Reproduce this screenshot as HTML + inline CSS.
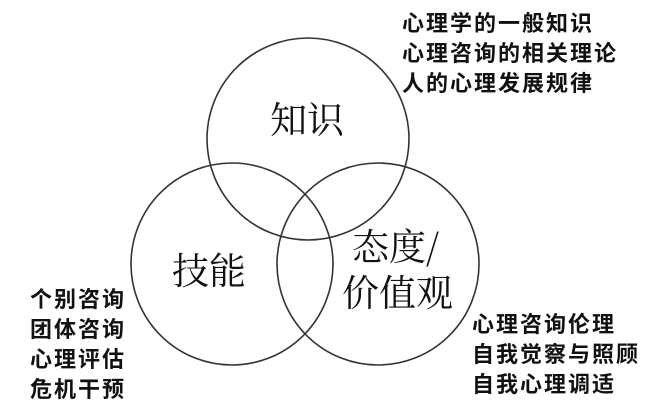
<!DOCTYPE html>
<html><head><meta charset="utf-8"><style>
body{margin:0;width:661px;height:420px;background:#fff;overflow:hidden;position:relative;font-family:"Liberation Sans","Noto Sans CJK SC",sans-serif;}
.t{position:absolute;font-size:22px;font-weight:bold;line-height:30px;letter-spacing:2px;color:#111;white-space:nowrap;}
.b{position:absolute;font-family:"Noto Serif CJK SC",serif;font-size:37px;color:#111;white-space:nowrap;line-height:44px;}
</style></head><body>
<svg width="661" height="420" style="position:absolute;left:0;top:0">
<g fill="none" stroke="#333" stroke-width="1.6">
<circle cx="308" cy="139" r="101"/>
<circle cx="232" cy="264" r="101"/>
<circle cx="378" cy="264" r="101"/>
</g></svg>
<div class="b" style="left:270px;top:95px">知识</div>
<div class="b" style="left:172px;top:246px">技能</div>
<div class="b" style="left:352px;top:222px">态度/</div>
<div class="b" style="left:342px;top:268px">价值观</div>
<div class="t" style="left:402px;top:9px">心理学的一般知识<br>心理咨询的相关理论<br>人的心理发展规律</div>
<div class="t" style="left:30px;top:285px">个别咨询<br>团体咨询<br>心理评估<br>危机干预</div>
<div class="t" style="left:472px;top:310px">心理咨询伦理<br>自我觉察与照顾<br>自我心理调适</div>
</body></html>
